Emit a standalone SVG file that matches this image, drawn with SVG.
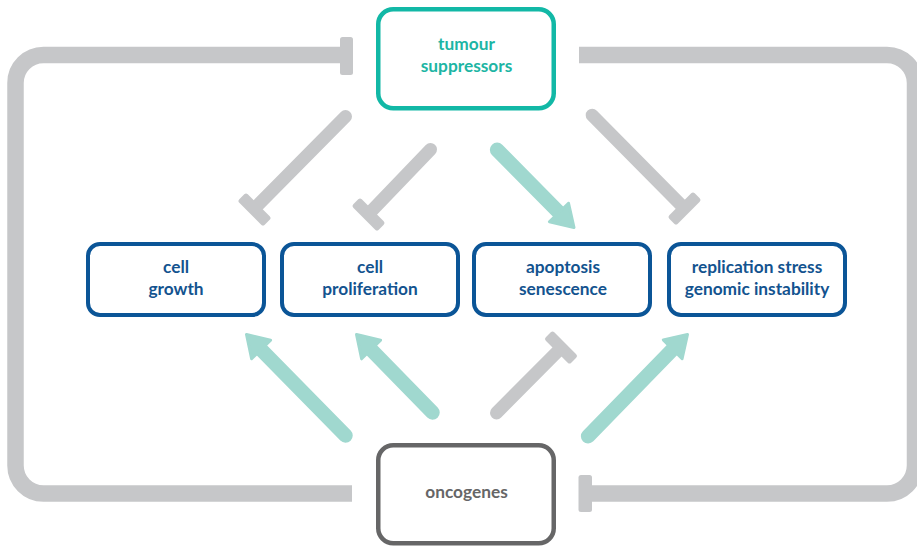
<svg xmlns="http://www.w3.org/2000/svg" width="917" height="547" viewBox="0 0 917 547">
<style>
.loop{fill:none;stroke:#c6c7c9;stroke-width:16.5}
.inh{fill:none;stroke:#c6c7c9;stroke-width:13;stroke-linecap:round}
.bar{fill:#c6c7c9}
.act{fill:none;stroke:#a0d8cf;stroke-width:14.5;stroke-linecap:round}
.head{fill:#a0d8cf;stroke:#a0d8cf;stroke-width:3;stroke-linejoin:round}
.box{fill:#fff;stroke:#0b5597;stroke-width:4}
.t{font-family:Lato,"Open Sans","Liberation Sans",sans-serif;font-weight:bold;font-size:17.3px;text-anchor:middle}
.tb{fill:#13538f}
</style>
<g id="connectors">
  <path class="loop" d="M345 55 H43.5 A28 28 0 0 0 15.5 83 V465.5 A28 28 0 0 0 43.5 493.5 H352"/>
  <rect class="bar" x="340" y="37" width="13" height="38" rx="2.5"/>
  <path class="loop" d="M579 55 H887 A28 28 0 0 1 915 83 V465.5 A28 28 0 0 1 887 493.5 H586"/>
  <rect class="bar" x="578.5" y="475" width="13.5" height="37" rx="2.5"/>

  <line class="inh" x1="345.5" y1="116.5" x2="257" y2="206"/>
  <rect class="bar" x="-18" y="-6" width="36" height="12" rx="2.5" transform="translate(254.5,209.5) rotate(45)"/>
  <line class="inh" x1="430.5" y1="149.5" x2="371" y2="211.5"/>
  <rect class="bar" x="-18" y="-6" width="36" height="12" rx="2.5" transform="translate(368.5,214.5) rotate(45)"/>
  <line class="inh" x1="592.2" y1="115.2" x2="682" y2="206"/>
  <rect class="bar" x="-18" y="-6" width="36" height="12" rx="2.5" transform="translate(684.5,208.5) rotate(-45)"/>
  <line class="inh" x1="496.5" y1="412.9" x2="559" y2="350"/>
  <rect class="bar" x="-18" y="-6" width="36" height="12" rx="2.5" transform="translate(561,347.5) rotate(45)"/>

  <line class="act" x1="497.1" y1="149.8" x2="560" y2="213.5"/>
  <polygon class="head" points="574,227.5 568.5,203.2 549.4,221.8"/>
  <line class="act" x1="345.5" y1="435.5" x2="260" y2="348.5"/>
  <polygon class="head" points="246.5,334.5 270.6,340.1 251.6,358.7"/>
  <line class="act" x1="432.5" y1="412.5" x2="370" y2="348.5"/>
  <polygon class="head" points="356.5,334.5 380.6,340.2 361.6,358.8"/>
  <line class="act" x1="588.1" y1="436.2" x2="674" y2="348"/>
  <polygon class="head" points="687.5,334.5 682.1,358.7 663.3,339.9"/>
</g>
<g id="tumour-suppressors">
  <rect x="378.25" y="9.25" width="175.5" height="99" rx="15" fill="#fff" stroke="#12b8a6" stroke-width="4.5"/>
  <text class="t" fill="#1db5a4" x="466.5" y="50">tumour</text>
  <text class="t" fill="#1db5a4" x="466.5" y="72">suppressors</text>
</g>
<g id="cell-growth">
  <rect class="box" x="88" y="244" width="176" height="71" rx="12"/>
  <text class="t tb" x="176" y="273">cell</text>
  <text class="t tb" x="176" y="295">growth</text>
</g>
<g id="cell-proliferation">
  <rect class="box" x="282" y="244" width="176" height="71" rx="12"/>
  <text class="t tb" x="370" y="273">cell</text>
  <text class="t tb" x="370" y="295">proliferation</text>
</g>
<g id="apoptosis-senescence">
  <rect class="box" x="474" y="244" width="176" height="71" rx="12"/>
  <text class="t tb" x="563" y="273">apoptosis</text>
  <text class="t tb" x="563" y="295">senescence</text>
</g>
<g id="replication-stress">
  <rect class="box" x="669" y="244" width="176" height="71" rx="12"/>
  <text class="t tb" x="757" y="273">replication stress</text>
  <text class="t tb" x="757" y="295">genomic instability</text>
</g>
<g id="oncogenes">
  <rect x="378.25" y="445.25" width="175.5" height="98" rx="15" fill="#fff" stroke="#666667" stroke-width="4.5"/>
  <text class="t" fill="#666667" x="466.5" y="498">oncogenes</text>
</g>
</svg>
